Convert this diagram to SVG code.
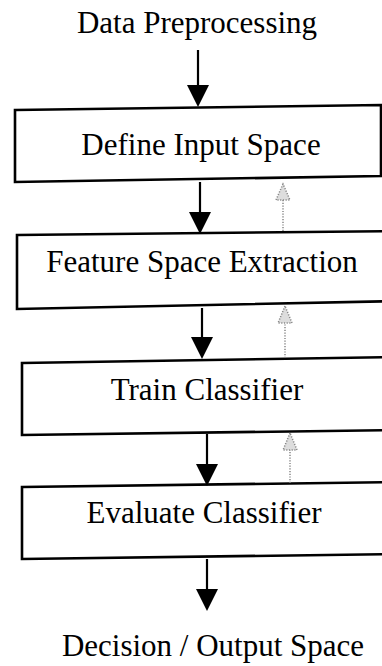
<svg xmlns="http://www.w3.org/2000/svg" width="382" height="666" viewBox="0 0 382 666">
<style>
.box{fill:#fff;stroke:#000;stroke-width:2.6;stroke-linejoin:miter}
.t{font-family:"Liberation Serif","Times New Roman",serif;font-size:31px;fill:#000;text-anchor:middle}
.shaft{stroke:#000;stroke-width:2.2;fill:none}
.head{fill:#000;stroke:none}
.fb{stroke:#888;stroke-width:1.5;stroke-dasharray:1.2 1.5;fill:none}
.fh{stroke:#888;stroke-width:1.5;stroke-dasharray:1.2 1.5;fill:#ddd}
</style>
<rect width="382" height="666" fill="#fff"/>
<g id="data-preprocessing"><text class="t" x="197" y="33">Data Preprocessing</text></g>
<g id="define-input-space">
<polygon class="box" points="15,110 381,105 381,176 15,182"/>
<text class="t" x="201" y="155">Define Input Space</text>
</g>
<g id="feature-space-extraction">
<polygon class="box" points="17,235 400,231 400,301 17,309"/>
<text class="t" x="202" y="272">Feature Space Extraction</text>
</g>
<g id="train-classifier">
<polygon class="box" points="22,363 400,357 400,430 22,435"/>
<text class="t" x="207" y="400">Train Classifier</text>
</g>
<g id="evaluate-classifier">
<polygon class="box" points="22,487 400,482 400,554 22,559"/>
<text class="t" x="204" y="523">Evaluate Classifier</text>
</g>
<g id="decision-output-space"><text class="t" x="213" y="656">Decision / Output Space</text></g>
<g id="connectors">
<line class="shaft" x1="198" y1="50" x2="198" y2="88"/>
<polygon class="head" points="187,85 209,85 198,107"/>
<line class="shaft" x1="200" y1="182" x2="200" y2="215"/>
<polygon class="head" points="189,212 211,212 200,234"/>
<line class="shaft" x1="202" y1="308" x2="202" y2="340"/>
<polygon class="head" points="191,337 213,337 202,359"/>
<line class="shaft" x1="207" y1="434" x2="207" y2="467"/>
<polygon class="head" points="196,464 218,464 207,486"/>
<line class="shaft" x1="207" y1="559" x2="207" y2="592"/>
<polygon class="head" points="196,589 218,589 207,611"/>
<line class="fb" x1="283" y1="231" x2="283" y2="200"/>
<polygon class="fh" points="283,184 276,200 290,200"/>
<line class="fb" x1="285" y1="358" x2="285" y2="323"/>
<polygon class="fh" points="285,306 278,323 292,323"/>
<line class="fb" x1="290" y1="483" x2="290" y2="450"/>
<polygon class="fh" points="290,433 283,450 297,450"/>
</g>
</svg>
